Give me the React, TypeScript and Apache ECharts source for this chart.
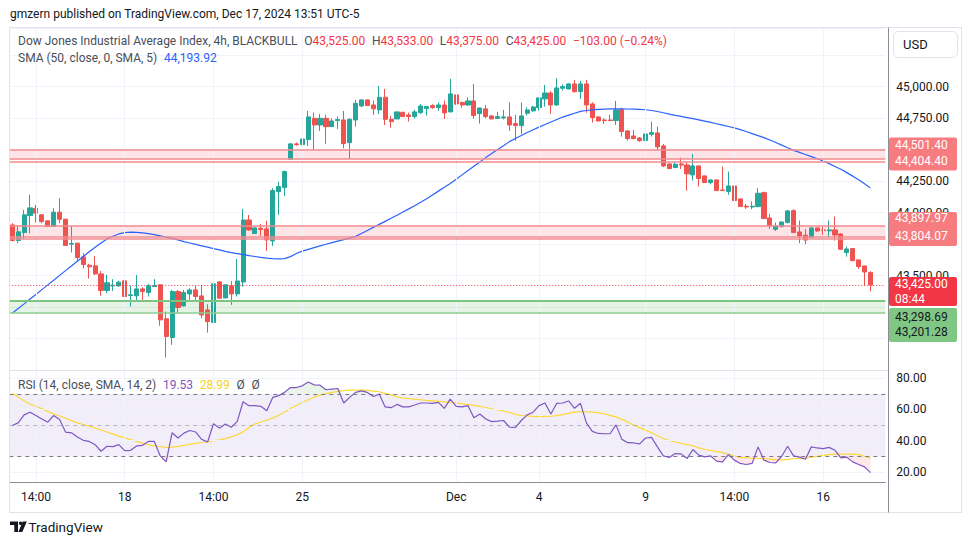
import React, { useEffect, useRef } from "react";
import * as echarts from "echarts";

// ---- candle data (4h, BLACKBULL Dow Jones) ----
const opens = [43902,43778,43841,43976,44034,43982,43934,43889,44003,43947,43749,43757,43648,43582,43577,43513,43381,43418,43418,43458,43341,43339,43394,43365,43413,43426,43156,43008,43373,43259,43354,43386,43338,43227,43127,43449,43322,43418,43354,43449,43941,43833,43875,43870,43775,44166,44198,44423,44545,44539,44579,44748,44695,44748,44682,44730,44735,44555,44735,44846,44894,44854,44815,44915,44740,44743,44796,44775,44762,44793,44825,44849,44833,44854,44799,44934,44873,44854,44886,44785,44823,44767,44746,44751,44759,44706,44690,44788,44807,44833,44902,44949,44854,44987,44981,45021,44960,45021,44862,44759,44735,44735,44730,44817,44648,44608,44592,44571,44621,44632,44529,44386,44357,44386,44378,44299,44370,44291,44238,44259,44179,44166,44211,44108,44050,44044,44047,44158,43957,43867,43888,43920,44015,43846,43820,43804,43878,43862,43854,43862,43830,43682,43714,43624,43576,43525];
const highs = [43915,43897,44021,44140,44061,43985,43936,44034,44114,43950,43889,43759,43677,43593,43656,43537,43505,43471,43460,43460,43418,43505,43407,43434,43471,43428,43214,43386,43386,43386,43399,43418,43426,43272,43449,43457,43428,43457,43632,44029,43981,43883,43910,43934,44193,44243,44333,44550,44555,44595,44807,44793,44783,44775,44748,44762,44807,44748,44894,44899,44897,44889,45005,44981,44767,44801,44798,44793,44815,44862,44846,44860,44873,44889,45061,44936,44881,44915,45021,44832,44854,44775,44799,44815,44875,44775,44873,44836,44846,44915,45013,44963,45066,45018,45026,45053,45045,45053,44875,44764,44748,44775,44886,44833,44656,44656,44600,44643,44722,44682,44545,44388,44404,44436,44404,44465,44372,44293,44261,44261,44365,44325,44259,44113,44068,44087,44193,44166,43989,43920,43927,44021,44026,43936,43870,43880,43880,43888,43936,43968,43835,43730,43716,43626,43578,43533];
const lows = [43770,43757,43788,43836,43921,43915,43887,43887,43915,43736,43683,43616,43556,43476,43505,43339,43360,43378,43410,43294,43254,43299,43307,43333,43411,43101,42849,42950,43196,43254,43307,43307,43161,43047,43121,43312,43320,43267,43333,43412,43854,43831,43814,43695,43735,43981,44132,44420,44529,44502,44529,44497,44648,44545,44680,44664,44510,44426,44682,44836,44847,44775,44783,44695,44674,44741,44760,44722,44746,44783,44770,44823,44807,44743,44797,44854,44833,44846,44746,44706,44748,44740,44744,44740,44648,44569,44624,44770,44801,44809,44841,44783,44849,44968,44979,44952,44902,44793,44714,44722,44703,44728,44695,44603,44571,44582,44561,44558,44603,44492,44360,44347,44355,44346,44174,44254,44206,44236,44224,44172,44172,44140,44093,44045,44029,44026,44042,43950,43870,43854,43883,43915,43839,43756,43748,43802,43846,43822,43804,43777,43703,43650,43613,43552,43420,43375];
const closes = [43778,43847,43982,44037,43995,43929,43889,44003,43947,43738,43754,43643,43587,43569,43513,43381,43442,43423,43447,43333,43347,43394,43373,43418,43421,43148,43016,43373,43246,43365,43386,43333,43187,43134,43434,43320,43426,43354,43457,43941,43862,43878,43865,43783,44174,44206,44325,44545,44539,44584,44759,44695,44748,44682,44727,44738,44547,44740,44867,44894,44849,44823,44915,44740,44722,44799,44762,44762,44799,44846,44841,44833,44854,44791,44942,44862,44854,44886,44770,44830,44762,44743,44762,44759,44695,44690,44767,44815,44838,44910,44949,44854,44989,45000,45021,44960,45021,44854,44754,44727,44730,44730,44815,44643,44587,44587,44571,44624,44635,44521,44370,44349,44383,44378,44307,44370,44270,44238,44259,44174,44174,44211,44095,44047,44044,44050,44153,43952,43896,43894,43925,44013,43841,43814,43782,43878,43854,43857,43862,43822,43708,43711,43618,43571,43528,43425];

// SMA(50)
const sma50 = [43200,43238,43275,43313,43350,43388,43426,43463,43501,43539,43576,43614,43651,43688,43724,43758,43790,43812,43830,43841,43844,43842,43838,43832,43824,43815,43806,43795,43783,43769,43758,43747,43736,43725,43714,43703,43692,43682,43674,43666,43658,43651,43644,43638,43634,43632,43634,43650,43675,43694,43708,43722,43735,43748,43761,43773,43785,43797,43811,43834,43858,43882,43906,43930,43954,43979,44004,44029,44054,44081,44110,44140,44170,44200,44231,44265,44299,44333,44367,44401,44436,44468,44500,44531,44563,44588,44612,44636,44657,44678,44699,44719,44739,44758,44773,44788,44803,44810,44815,44819,44821,44823,44823,44823,44822,44821,44819,44816,44810,44802,44792,44781,44771,44763,44754,44745,44736,44726,44716,44705,44694,44683,44672,44658,44643,44627,44611,44595,44576,44556,44535,44514,44494,44478,44461,44444,44427,44409,44388,44366,44343,44317,44289,44260,44228,44193.92];

// RSI(14) and its SMA(14)
const rsi = [49.7,51.4,56.5,58.2,56.1,53.9,51.8,56.1,53.5,45.5,45.0,42.3,40.2,39.5,37.4,33.2,36.4,36.2,37.4,33.6,33.8,36.6,37.0,39.5,39.5,30.2,26.4,45.0,41.7,44.8,46.5,45.5,40.8,39.1,50.8,48.0,50.6,48.6,52.2,64.9,62.4,62.4,62.0,59.2,67.7,68.8,70.9,74.0,74.0,75.1,77.6,75.7,75.5,72.6,73.0,73.4,64.1,67.7,70.9,71.9,70.9,68.3,69.8,61.6,61.1,63.2,61.6,61.6,62.8,64.1,64.1,63.9,64.5,60.7,66.6,62.0,61.6,62.4,54.6,57.1,53.9,52.2,52.5,52.9,48.6,48.4,52.9,56.5,58.2,62.4,64.1,57.1,63.9,64.1,65.4,60.7,63.9,51.4,45.9,44.6,44.4,44.4,50.1,40.8,38.7,38.5,37.9,41.7,42.1,36.0,30.2,29.2,31.7,31.5,28.5,34.3,30.7,29.6,30.2,26.9,26.4,31.1,27.5,25.4,24.7,25.4,36.0,27.5,26.0,25.8,30.0,36.4,30.2,29.4,28.1,36.0,35.3,34.9,35.7,33.8,29.0,29.4,26.4,24.7,23.2,19.53];
const rsiMa = [70.4,68,65.5,63.5,62,60.5,58.6,57.2,55.8,54.3,52.8,51.4,50.3,49.2,48,46.8,45.5,44.2,42.9,41.8,40.6,39.5,38.4,37.4,36.6,36.1,35.7,35.8,36.3,37,37.7,38.2,38.8,39.3,39.8,40.5,41.3,42.4,43.8,45.6,48.6,50.6,51.9,53.2,54.4,56.3,58.4,60.6,62.5,64.4,66.2,67.9,69.2,70.1,70.9,71.5,72,72.3,72.4,72.4,72.2,71.7,71.3,70.3,69.3,68,67.3,66.9,66.6,66.2,65.8,65.5,65.2,64.8,64.5,64,63.6,63.1,62.6,62,61.2,60.4,59.6,59,58,56.8,56.1,55.8,55.5,55.4,55.5,55.6,56,56.7,57.5,58.3,58.6,58.5,58.3,57.9,57.2,56.2,55.2,53.6,51.9,49.9,48.3,46.7,45,43.1,41.4,40,39.1,38.3,37.4,36.7,35.4,34.5,33.7,33,32.3,31.2,30.2,29.3,28.9,28.7,28.6,28.4,28.2,27.7,27.7,28,28.4,28.6,28.8,29.4,29.9,30.5,31,31.3,31.4,31.4,31.3,31,30,28.99];

// time axis ticks (candle index -> label)
const tickIndex = [4, 19, 34, 49, 75, 89, 107, 122, 137];
const tickText = ["14:00", "18", "14:00", "25", "Dec", "4", "9", "14:00", "16"];

// zones / levels
const resistZone1 = [44501.4, 44426];
const resistZone2 = [43897.97, 43804.07];
const supportZone = [43298.69, 43201.28];
const extraLines = [44404.4, 43790];
const lastPrice = 43425;
const rsiTicks = [20, 40, 60, 80];
// price-axis labels that sit under the level boxes / USD button
const coveredPriceLabels = [45250, 44500, 43750, 43250, 43000];

const FONT = "Roboto, 'Noto Sans', sans-serif";
const UP = "#26a69a";
const DOWN = "#ef5350";

const fmt = (v: number) =>
  v.toLocaleString("en-US", { minimumFractionDigits: 2, maximumFractionDigits: 2 });

export default function App() {
  const ref = useRef<HTMLDivElement>(null);
  useEffect(() => {
    const chart = echarts.init(ref.current!, null, { renderer: "svg" });
    const N = closes.length;
    const cats = Array.from({ length: N + 2 }, (_, i) => String(i));
    const candles = opens.map((o, i) => [o, closes[i], lows[i], highs[i]]);
    const vGrid = tickIndex.map((i) => ({ xAxis: i }));
    const gridLine = { color: "#f0f3fa", width: 1, type: "solid" };
    const pinkLine = { color: "#f28b8f", width: 1.5, type: "solid" };

    chart.setOption({
      animation: false,
      backgroundColor: "#ffffff",
      grid: [
        { left: 9.3, width: 876, top: 28, height: 342 },
        { left: 9.3, width: 876, top: 371, height: 111 },
      ],
      xAxis: [
        {
          type: "category", gridIndex: 0, data: cats, boundaryGap: true,
          axisLine: { show: false }, axisTick: { show: false }, axisLabel: { show: false }, splitLine: { show: false },
        },
        {
          type: "category", gridIndex: 1, data: cats, boundaryGap: true,
          axisLine: { show: true, lineStyle: { color: "#8a8d96", width: 1 } },
          axisTick: { show: false }, splitLine: { show: false },
          axisLabel: {
            interval: (i: number) => tickIndex.indexOf(i) >= 0,
            formatter: (_v: string, i: number) => tickText[tickIndex.indexOf(i)] || "",
            color: "#131722", fontSize: 12, fontFamily: FONT, margin: 9,
          },
        },
      ],
      yAxis: [
        {
          type: "value", gridIndex: 0, position: "right", min: 42750, max: 45465, interval: 250,
          axisLine: { show: false }, axisTick: { show: false },
          splitLine: { show: true, lineStyle: { color: "#f0f3fa" } },
          axisLabel: {
            showMinLabel: false, showMaxLabel: false, margin: 11,
            color: "#131722", fontSize: 12, fontFamily: FONT,
            formatter: (v: number) => (coveredPriceLabels.indexOf(v) >= 0 ? "" : fmt(v)),
          },
        },
        {
          type: "value", gridIndex: 1, position: "right", min: 13.5, max: 84.6,
          axisLine: { show: false }, axisTick: { show: false }, splitLine: { show: false },
          axisLabel: {
            customValues: rsiTicks, margin: 11, color: "#131722", fontSize: 12, fontFamily: FONT,
            formatter: (v: number) => v.toFixed(2),
          },
        },
      ],
      series: [
        {
          type: "line", xAxisIndex: 0, yAxisIndex: 0, data: [], z: 1, silent: true,
          markArea: {
            silent: true,
            data: [
              [{ yAxis: resistZone1[0], itemStyle: { color: "rgba(242,54,69,0.13)" } }, { yAxis: resistZone1[1] }],
              [{ yAxis: resistZone2[0], itemStyle: { color: "rgba(242,54,69,0.13)" } }, { yAxis: resistZone2[1] }],
              [{ yAxis: supportZone[0], itemStyle: { color: "rgba(76,175,80,0.14)" } }, { yAxis: supportZone[1] }],
            ],
          },
          markLine: {
            silent: true, symbol: "none", label: { show: false },
            data: [
              ...vGrid.map((d) => ({ ...d, lineStyle: gridLine })),
              { yAxis: resistZone1[0], lineStyle: pinkLine },
              { yAxis: resistZone1[1], lineStyle: pinkLine },
              { yAxis: extraLines[0], lineStyle: pinkLine },
              { yAxis: resistZone2[0], lineStyle: pinkLine },
              { yAxis: resistZone2[1], lineStyle: pinkLine },
              { yAxis: extraLines[1], lineStyle: pinkLine },
              { yAxis: supportZone[0], lineStyle: { color: "#7cc47f", width: 2, type: "solid" } },
              { yAxis: supportZone[1], lineStyle: { color: "#8fcc92", width: 1.5, type: "solid" } },
            ],
          },
        },
        {
          type: "candlestick", xAxisIndex: 0, yAxisIndex: 0, data: candles, barWidth: 4.6, z: 3,
          itemStyle: { color: UP, color0: DOWN, borderColor: UP, borderColor0: DOWN, borderWidth: 1 },
          markLine: {
            silent: true, symbol: "none", label: { show: false },
            data: [{ yAxis: lastPrice, lineStyle: { color: "#f23645", width: 1, type: [1, 2] } }],
          },
        },
        {
          type: "line", xAxisIndex: 0, yAxisIndex: 0, data: sma50, symbol: "none", z: 4,
          lineStyle: { color: "#2962ff", width: 1.2 },
        },
        // RSI pane helpers
        {
          type: "line", xAxisIndex: 1, yAxisIndex: 1, data: [], z: 1, silent: true,
          markArea: {
            silent: true,
            data: [[{ yAxis: 70, itemStyle: { color: "rgba(126,87,194,0.1)" } }, { yAxis: 30 }]],
          },
          markLine: {
            silent: true, symbol: "none", label: { show: false },
            data: [
              ...vGrid.map((d) => ({ ...d, lineStyle: gridLine })),
              ...rsiTicks.map((v) => ({ yAxis: v, lineStyle: gridLine })),
              { yAxis: 70, lineStyle: { color: "#787b86", width: 1, type: [4, 4] } },
              { yAxis: 50, lineStyle: { color: "rgba(120,123,134,0.5)", width: 1, type: [4, 4] } },
              { yAxis: 30, lineStyle: { color: "#787b86", width: 1, type: [4, 4] } },
            ],
          },
        },
        {
          type: "line", xAxisIndex: 1, yAxisIndex: 1, stack: "ob", symbol: "none", silent: true, z: 2,
          data: rsi.map(() => 70), lineStyle: { opacity: 0 },
        },
        {
          type: "line", xAxisIndex: 1, yAxisIndex: 1, stack: "ob", symbol: "none", silent: true, z: 2,
          data: rsi.map((v) => Math.max(v - 70, 0)), lineStyle: { opacity: 0 },
          areaStyle: { color: "rgba(76,175,80,0.18)", origin: "start" },
        },
        {
          type: "line", xAxisIndex: 1, yAxisIndex: 1, stack: "os", symbol: "none", silent: true, z: 2,
          data: rsi.map((v) => Math.min(v, 30)), lineStyle: { opacity: 0 },
        },
        {
          type: "line", xAxisIndex: 1, yAxisIndex: 1, stack: "os", symbol: "none", silent: true, z: 2,
          data: rsi.map((v) => 30 - Math.min(v, 30)), lineStyle: { opacity: 0 },
          areaStyle: { color: "rgba(242,54,69,0.16)", origin: "start" },
        },
        {
          type: "line", xAxisIndex: 1, yAxisIndex: 1, data: rsiMa, symbol: "none", z: 4,
          lineStyle: { color: "#fdd835", width: 1.2 },
        },
        {
          type: "line", xAxisIndex: 1, yAxisIndex: 1, data: rsi, symbol: "none", z: 5,
          lineStyle: { color: "#7e57c2", width: 1.2 },
        },
      ],
    });

    const yp = (v: number) => chart.convertToPixel({ yAxisIndex: 0 }, v) as number;
    const last = N - 1;
    const chg = closes[last] - closes[last - 1];
    const pct = (chg / closes[last - 1]) * 100;
    const sgn = (v: number, s: string) => (v < 0 ? "\u2212" + s : s);

    const txt = (x: number, y: number, text: string, fill: string, size = 12, weight: any = "normal") => ({
      type: "text", x, y, z: 60,
      style: { text, fill, fontSize: size, fontFamily: FONT, fontWeight: weight, verticalAlign: "middle", align: "left" },
    });
    const rect = (x: number, y: number, w: number, h: number, fill: string, r = 2, stroke?: string) => ({
      type: "rect", z: 55, shape: { x, y, width: w, height: h, r },
      style: { fill, stroke: stroke || null, lineWidth: stroke ? 1 : 0 },
    });
    const hl = (x1: number, y1: number, x2: number, y2: number, stroke: string) => ({
      type: "line", z: 50, shape: { x1, y1, x2, y2 }, style: { stroke, lineWidth: 1 },
    });

    const p1 = yp(resistZone1[0]);
    const p2 = yp(resistZone2[0]);
    const p3 = yp(lastPrice);
    const p4 = yp(supportZone[0]);
    const small = { fontSize: 12, fontFamily: FONT };

    const g: any[] = [
      // frame
      hl(9, 27.5, 962, 27.5, "#e0e3eb"),
      hl(9.5, 27.5, 9.5, 512.5, "#e0e3eb"),
      hl(961.5, 27.5, 961.5, 512.5, "#e0e3eb"),
      hl(9, 512.5, 962, 512.5, "#e0e3eb"),
      hl(9, 370.5, 888, 370.5, "#e0e3eb"),
      hl(888.5, 27.5, 888.5, 512.5, "#8a8d96"),
      // header
      txt(10, 14, "gmzern published on TradingView.com, Dec 17, 2024 13:51 UTC-5", "#131722", 12),
      // USD button
      rect(893.5, 31.5, 64, 26, "#ffffff", 5, "#e0e3eb"),
      txt(903, 44.5, "USD", "#131722", 13),
      // legend 1
      {
        type: "text", x: 18, y: 41, z: 60,
        style: {
          verticalAlign: "middle",
          text:
            "{n|Dow Jones Industrial Average Index, 4h, BLACKBULL}  {k|O}{v|" + fmt(opens[last]) +
            "}  {k|H}{v|" + fmt(highs[last]) + "}  {k|L}{v|" + fmt(lows[last]) + "}  {k|C}{v|" +
            fmt(closes[last]) + "}  {v|" + sgn(chg, fmt(Math.abs(chg))) + " (" + sgn(pct, Math.abs(pct).toFixed(2)) + "%)}",
          rich: {
            n: { fill: "#4a4e59", ...small },
            k: { fill: "#4a4e59", ...small },
            v: { fill: "#f23645", ...small },
          },
        },
      },
      {
        type: "text", x: 18, y: 58, z: 60,
        style: {
          verticalAlign: "middle",
          text: "{n|SMA (50, close, 0, SMA, 5)}  {b|" + fmt(sma50[last]) + "}",
          rich: {
            n: { fill: "#4a4e59", ...small },
            b: { fill: "#2962ff", ...small },
          },
        },
      },
      {
        type: "text", x: 18, y: 385, z: 60,
        style: {
          verticalAlign: "middle",
          text: "{n|RSI (14, close, SMA, 14, 2)}  {p|" + rsi[last].toFixed(2) + "}  {y|" + rsiMa[last].toFixed(2) + "}  {n|\u00d8}  {n|\u00d8}",
          rich: {
            n: { fill: "#4a4e59", ...small },
            p: { fill: "#7e57c2", ...small },
            y: { fill: "#f5d320", ...small },
          },
        },
      },
      // price labels on the axis
      rect(889, p1 - 12, 68, 33, "#f77c80", 2),
      txt(895, p1 - 4.5, fmt(resistZone1[0]), "#ffffff", 12),
      txt(895, p1 + 11.5, fmt(extraLines[0]), "#ffffff", 12),
      rect(889, p2 - 13.5, 68, 34, "#f77c80", 2),
      txt(895, p2 - 7, fmt(resistZone2[0]), "#ffffff", 12),
      txt(895, p2 + 10.5, fmt(resistZone2[1]), "#ffffff", 12),
      rect(889, p3 - 8, 68, 29, "#f23645", 2),
      txt(895, p3 - 1, fmt(lastPrice), "#ffffff", 12),
      txt(895, p3 + 14, "08:44", "#ffffff", 12),
      rect(889, p4 + 7, 68, 34, "#81c784", 2),
      txt(895, p4 + 15.7, fmt(supportZone[0]), "#131722", 12),
      txt(895, p4 + 30.7, fmt(supportZone[1]), "#131722", 12),
      // logo
      { type: "polygon", z: 60, shape: { points: [[10, 521.5], [18, 521.5], [18, 532], [14.3, 532], [14.3, 525], [10, 525]] }, style: { fill: "#131722" } },
      { type: "circle", z: 60, shape: { cx: 20.6, cy: 523.3, r: 1.8 }, style: { fill: "#131722" } },
      { type: "polygon", z: 60, shape: { points: [[22.8, 521.5], [26.8, 521.5], [22.3, 532], [18.3, 532]] }, style: { fill: "#131722" } },
      txt(28.5, 527, "TradingView", "#131722", 13.5, "normal"),
    ];
    chart.setOption({ graphic: g });

    return () => chart.dispose();
  }, []);
  return (
    <div
      ref={ref}
      style={{ position: "fixed", left: 0, top: 0, width: 970, height: 545, background: "#ffffff" }}
    />
  );
}
